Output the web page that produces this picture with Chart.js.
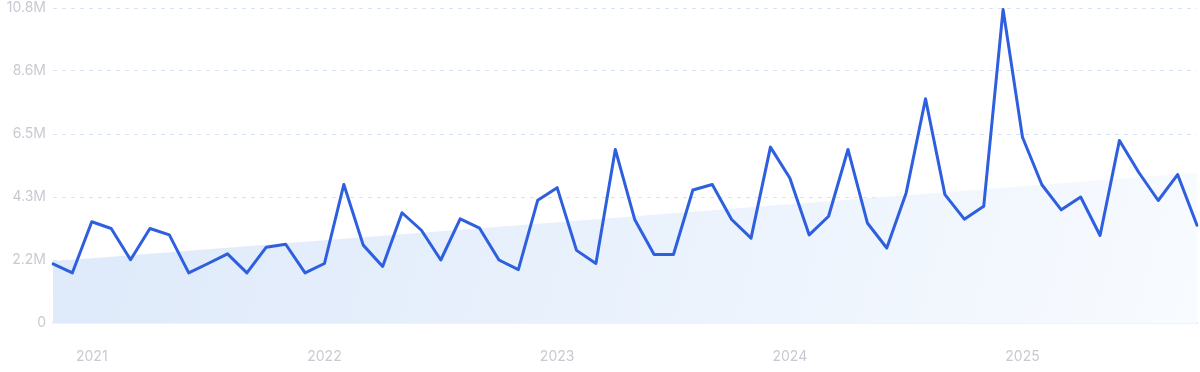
<!DOCTYPE html>
<html>
<head>
<meta charset="utf-8">
<script src="https://cdn.jsdelivr.net/npm/chart.js@4"></script>
<style>
  html, body { margin: 0; padding: 0; background: #ffffff; }
  #wrap { width: 1200px; height: 372px; position: relative; }
</style>
</head>
<body>
<div id="wrap"><canvas id="c" width="1200" height="372"></canvas></div>
<script>
// Months from Nov 2020 to Oct 2025
const months = [
  '2020-11','2020-12',
  '2021-01','2021-02','2021-03','2021-04','2021-05','2021-06','2021-07','2021-08','2021-09','2021-10','2021-11','2021-12',
  '2022-01','2022-02','2022-03','2022-04','2022-05','2022-06','2022-07','2022-08','2022-09','2022-10','2022-11','2022-12',
  '2023-01','2023-02','2023-03','2023-04','2023-05','2023-06','2023-07','2023-08','2023-09','2023-10','2023-11','2023-12',
  '2024-01','2024-02','2024-03','2024-04','2024-05','2024-06','2024-07','2024-08','2024-09','2024-10','2024-11','2024-12',
  '2025-01','2025-02','2025-03','2025-04','2025-05','2025-06','2025-07','2025-08','2025-09','2025-10'
];

// Search volume, in millions
const volume = [
  2.03, 1.72,
  3.47, 3.24, 2.17, 3.24, 3.02, 1.72, 2.04, 2.37, 1.72, 2.60, 2.70, 1.72,
  2.04, 4.75, 2.67, 1.94, 3.78, 3.18, 2.16, 3.57, 3.25, 2.16, 1.83, 4.21,
  4.64, 2.49, 2.04, 5.95, 3.55, 2.35, 2.35, 4.56, 4.75, 3.55, 2.91, 6.03,
  4.97, 3.02, 3.66, 5.95, 3.43, 2.57, 4.46, 7.69, 4.40, 3.56, 4.00, 10.75,
  6.37, 4.74, 3.88, 4.32, 3.00, 6.26, 5.16, 4.20, 5.09, 3.35
];

// Trend line endpoints (millions) at first and last month
const trendEnds = [2.12, 5.15];

// Axis tick labels
const yTickValues = [0, 2.16, 4.32, 6.48, 8.64, 10.8];
const yTickLabels = ['0', '2.2M', '4.3M', '6.5M', '8.6M', '10.8M'];
const xYearLabels = ['2021', '2022', '2023', '2024', '2025'];

const volumeData = volume.map(v => v * 1e6);
const trendData = months.map((m, i) =>
  i === 0 ? trendEnds[0] * 1e6 : (i === months.length - 1 ? trendEnds[1] * 1e6 : null));

function trendFill(context) {
  const chart = context.chart;
  const area = chart.chartArea;
  if (!area) return 'rgba(220,233,249,1)';
  const g = chart.ctx.createLinearGradient(area.left, area.top, area.right, area.bottom);
  g.addColorStop(0, '#dde9fa');
  g.addColorStop(0.5, '#e9f1fc');
  g.addColorStop(1, '#f8fbff');
  return g;
}

const labelFont = { family: 'Inter, "Noto Sans", sans-serif', size: 14, weight: '400' };
const labelColor = '#c9c9d1';

new Chart(document.getElementById('c'), {
  type: 'line',
  data: {
    labels: months,
    datasets: [
      {
        data: volumeData,
        borderColor: '#2d5fde',
        borderWidth: 3,
        pointRadius: 0,
        pointHoverRadius: 0,
        tension: 0,
        fill: false,
        borderJoinStyle: 'round',
        borderCapStyle: 'round'
      },
      {
        data: trendData,
        spanGaps: true,
        borderWidth: 0,
        borderColor: 'rgba(0,0,0,0)',
        pointRadius: 0,
        pointHoverRadius: 0,
        tension: 0,
        fill: 'origin',
        backgroundColor: trendFill
      }
    ]
  },
  options: {
    responsive: false,
    animation: false,
    devicePixelRatio: 1,
    layout: { padding: { top: 8, right: 3, left: 0, bottom: 0 } },
    plugins: { legend: { display: false }, tooltip: { enabled: false } },
    scales: {
      x: {
        type: 'category',
        offset: false,
        grid: { display: false, drawTicks: false },
        border: { display: true, color: '#dde6f5', width: 1.5 },
        ticks: {
          autoSkip: false,
          maxRotation: 0,
          padding: 25,
          font: labelFont,
          color: labelColor,
          callback: function (value, index) {
            const m = months[index];
            if (m.endsWith('-01')) {
              const y = m.slice(0, 4);
              return xYearLabels.includes(y) ? y : '';
            }
            return '';
          }
        },
        afterFit: function (scale) {
          scale.height = 49;
          scale.paddingLeft = 0;
          scale.paddingRight = 0;
        }
      },
      y: {
        min: 0,
        max: 10.8e6,
        afterBuildTicks: function (scale) {
          scale.ticks = yTickValues.map(v => ({ value: v * 1e6 }));
        },
        grid: {
          drawTicks: false,
          color: function (ctx) { return ctx.index === 0 ? 'rgba(0,0,0,0)' : '#d5e5f7'; },
          lineWidth: 1
        },
        border: { display: false, dash: [4, 5] },
        ticks: {
          padding: 7,
          font: labelFont,
          color: labelColor,
          callback: function (value, index) { return yTickLabels[index]; }
        },
        afterFit: function (scale) {
          scale.width = 53;
          scale.paddingTop = 0;
          scale.paddingBottom = 0;
        }
      }
    }
  }
});
</script>
</body>
</html>
